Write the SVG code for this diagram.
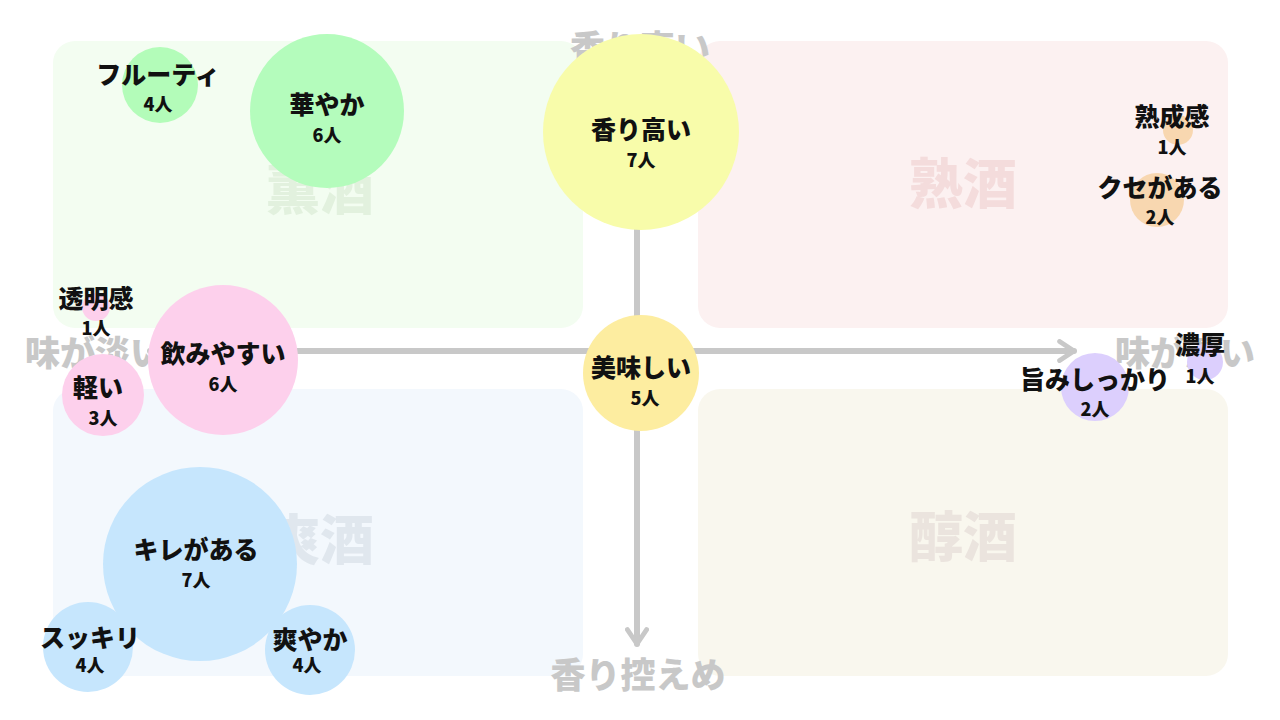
<svg xmlns="http://www.w3.org/2000/svg" width="1280" height="720" viewBox="0 0 1280 720">
<style>
text{font-family:"Noto Sans CJK JP","Noto Sans",sans-serif;font-weight:900;text-anchor:middle;dominant-baseline:central}
.t{font-size:25px;fill:#111}
.n{font-size:18px;fill:#111}
.ax{font-size:35px;fill:#c8c8c8}
.q{font-size:54px}
</style>
<defs>
<marker id="ah" viewBox="0 0 10 10" refX="7" refY="5" markerWidth="4" markerHeight="4" orient="auto"><path d="M1,1 L7,5 L1,9" fill="none" stroke="#c8c8c8" stroke-width="2" stroke-linecap="round" stroke-linejoin="round"/></marker>
</defs>
<rect width="1280" height="720" fill="#fff"/>
<g id="quadrants">
<rect x="53" y="41" width="530" height="287" rx="22" fill="#f3fdf1"/>
<rect x="698" y="41" width="530" height="287" rx="22" fill="#fcf1f1"/>
<rect x="53" y="389" width="530" height="287" rx="22" fill="#f3f8fd"/>
<rect x="698" y="389" width="530" height="287" rx="22" fill="#f9f7ee"/>
<text class="q" x="320" y="186" fill="#e2f1de">薫酒</text>
<text class="q" x="963" y="180" fill="#f4dcdc">熟酒</text>
<text class="q" x="320" y="536" fill="#e0e7ee">爽酒</text>
<text class="q" x="963" y="533" fill="#ebe4de">醇酒</text>
</g>
<g id="axis-labels">
<text class="ax" x="640" y="45">香り高い</text>
<text class="ax" x="95" y="350">味が淡い</text>
<text class="ax" x="1185" y="350">味が濃い</text>
<text class="ax" x="638" y="672">香り控えめ</text>
</g>
<g id="connectors" stroke="#c8c8c8" stroke-width="6" stroke-linecap="round">
<line x1="150" y1="351" x2="1074" y2="351" marker-end="url(#ah)"/>
<line x1="637" y1="200" x2="637" y2="644" marker-end="url(#ah)"/>
</g>
<g id="n-fruity"><circle cx="160" cy="85" r="38" fill="#b3fcb9"/><text class="t" x="158" y="73">フルーティ</text><text class="n" x="158" y="103">4人</text></g>
<g id="n-hanayaka"><circle cx="327" cy="111" r="77" fill="#b4fcbc"/><text class="t" x="327" y="103">華やか</text><text class="n" x="327" y="134">6人</text></g>
<g id="n-kaoritakai"><circle cx="641" cy="132" r="98" fill="#f8fcaa"/><text class="t" x="641" y="128">香り高い</text><text class="n" x="641" y="159">7人</text></g>
<g id="n-toumei"><circle cx="96" cy="307" r="14" fill="#fdd0ec"/><text class="t" x="96" y="297">透明感</text><text class="n" x="96" y="327">1人</text></g>
<g id="n-nomiyasui"><circle cx="223" cy="360" r="75" fill="#fdd0ec"/><text class="t" x="223" y="352">飲みやすい</text><text class="n" x="223" y="383">6人</text></g>
<g id="n-karui"><circle cx="103" cy="395" r="41" fill="#fdd0ec"/><text class="t" x="98" y="386">軽い</text><text class="n" x="103" y="417">3人</text></g>
<g id="n-oishii"><circle cx="641" cy="373" r="58" fill="#fdeda0"/><text class="t" x="641" y="366">美味しい</text><text class="n" x="645" y="397">5人</text></g>
<g id="n-kire"><circle cx="200" cy="564" r="97" fill="#c6e6fd"/><text class="t" x="196" y="548">キレがある</text><text class="n" x="196" y="579">7人</text></g>
<g id="n-sukkiri"><circle cx="88" cy="647" r="45" fill="#c6e6fd"/><text class="t" x="90" y="636">スッキリ</text><text class="n" x="90" y="664">4人</text></g>
<g id="n-sawayaka"><circle cx="310" cy="650" r="45" fill="#c6e6fd"/><text class="t" x="310" y="638">爽やか</text><text class="n" x="307" y="664">4人</text></g>
<g id="n-jukusei"><circle cx="1178" cy="130" r="15" fill="#f8d7b0"/><text class="t" x="1172" y="115">熟成感</text><text class="n" x="1172" y="146">1人</text></g>
<g id="n-kuse"><circle cx="1157" cy="200" r="27" fill="#f8d7b0"/><text class="t" x="1160" y="186">クセがある</text><text class="n" x="1160" y="216">2人</text></g>
<g id="n-noukou"><circle cx="1205" cy="362" r="18" fill="#dccffd"/><text class="t" x="1200" y="343">濃厚</text><text class="n" x="1200" y="375">1人</text></g>
<g id="n-umami"><circle cx="1095" cy="387" r="34" fill="#dccffd"/><text class="t" x="1095" y="378">旨みしっかり</text><text class="n" x="1095" y="408">2人</text></g>
</svg>
